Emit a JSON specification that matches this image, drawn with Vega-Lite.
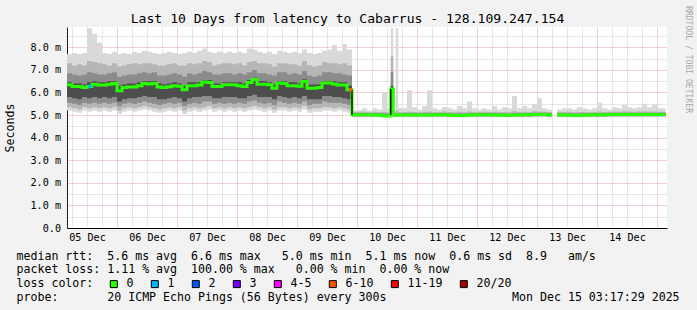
{
  "$schema": "https://vega.github.io/schema/vega-lite/v6.json",
  "width": 600,
  "height": 201,
  "autosize": {"type": "none"},
  "padding": {"left": 67, "top": 27, "right": 30, "bottom": 82},
  "background": "#f2f2f2",
  "config": {
    "view": {"stroke": null, "fill": "white"},
    "axis": {"zindex": 1, "labelFont": "DejaVu Sans Mono", "titleFont": "DejaVu Sans Mono", "titleFontWeight": "normal", "labelColor": "black", "titleColor": "black"}
  },
  "title": {"text": "Last 10 Days from latency to Cabarrus - 128.109.247.154", "font": "DejaVu Sans Mono", "fontSize": 13.1, "fontWeight": "normal", "color": "black", "anchor": "middle", "frame": "group", "dx": -19.5, "dy": 25, "offset": 4},
  "datasets": {
    "smoke": [
      {"h":0,"m":6.34,"a1":5.2,"b1":7.7,"a2":5.35,"b2":7.3,"a3":5.55,"b3":6.85,"a4":5.8,"b4":6.45},
      {"h":2,"m":6.27,"a1":5.15,"b1":7.75,"a2":5.3,"b2":7.2,"a3":5.5,"b3":6.8,"a4":5.75,"b4":6.4},
      {"h":4,"m":6.27,"a1":5.1,"b1":7.7,"a2":5.25,"b2":7.25,"a3":5.45,"b3":6.75,"a4":5.7,"b4":6.4},
      {"h":6,"m":6.22,"a1":5.2,"b1":7.75,"a2":5.35,"b2":7.2,"a3":5.55,"b3":6.8,"a4":5.8,"b4":6.35},
      {"h":8,"m":6.27,"a1":5.15,"b1":8.85,"a2":5.3,"b2":7.4,"a3":5.5,"b3":6.9,"a4":5.75,"b4":6.45},
      {"h":10,"m":6.37,"a1":5.2,"b1":8.6,"a2":5.35,"b2":7.35,"a3":5.55,"b3":6.85,"a4":5.8,"b4":6.5},
      {"h":12,"m":6.33,"a1":5.15,"b1":8.2,"a2":5.3,"b2":7.3,"a3":5.5,"b3":6.8,"a4":5.75,"b4":6.45},
      {"h":14,"m":6.33,"a1":5.2,"b1":7.75,"a2":5.35,"b2":7.25,"a3":5.55,"b3":6.8,"a4":5.8,"b4":6.45},
      {"h":16,"m":6.36,"a1":5.15,"b1":7.7,"a2":5.3,"b2":7.2,"a3":5.5,"b3":6.85,"a4":5.75,"b4":6.5},
      {"h":18,"m":6.4,"a1":5.2,"b1":7.8,"a2":5.35,"b2":7.3,"a3":5.55,"b3":6.9,"a4":5.8,"b4":6.5},
      {"h":20,"m":6.08,"a1":5.05,"b1":7.7,"a2":5.2,"b2":7.15,"a3":5.4,"b3":6.7,"a4":5.6,"b4":6.3},
      {"h":22,"m":6.22,"a1":5.15,"b1":7.75,"a2":5.3,"b2":7.2,"a3":5.5,"b3":6.75,"a4":5.7,"b4":6.35},
      {"h":24,"m":6.24,"a1":5.2,"b1":7.7,"a2":5.35,"b2":7.25,"a3":5.55,"b3":6.8,"a4":5.75,"b4":6.4},
      {"h":26,"m":6.24,"a1":5.15,"b1":7.8,"a2":5.3,"b2":7.3,"a3":5.5,"b3":6.8,"a4":5.75,"b4":6.4},
      {"h":28,"m":6.3,"a1":5.2,"b1":7.75,"a2":5.35,"b2":7.25,"a3":5.55,"b3":6.85,"a4":5.8,"b4":6.45},
      {"h":30,"m":6.4,"a1":5.25,"b1":7.85,"a2":5.4,"b2":7.3,"a3":5.6,"b3":6.9,"a4":5.85,"b4":6.5},
      {"h":32,"m":6.38,"a1":5.2,"b1":7.8,"a2":5.35,"b2":7.3,"a3":5.55,"b3":6.85,"a4":5.8,"b4":6.5},
      {"h":34,"m":6.4,"a1":5.15,"b1":7.75,"a2":5.3,"b2":7.25,"a3":5.5,"b3":6.9,"a4":5.8,"b4":6.5},
      {"h":36,"m":6.24,"a1":5.1,"b1":7.7,"a2":5.25,"b2":7.2,"a3":5.45,"b3":6.75,"a4":5.7,"b4":6.4},
      {"h":38,"m":6.22,"a1":5.15,"b1":7.75,"a2":5.3,"b2":7.2,"a3":5.5,"b3":6.75,"a4":5.7,"b4":6.35},
      {"h":40,"m":6.25,"a1":5.2,"b1":7.8,"a2":5.35,"b2":7.25,"a3":5.55,"b3":6.8,"a4":5.75,"b4":6.4},
      {"h":42,"m":6.3,"a1":5.15,"b1":7.75,"a2":5.3,"b2":7.3,"a3":5.5,"b3":6.85,"a4":5.8,"b4":6.45},
      {"h":44,"m":6.28,"a1":5.2,"b1":7.7,"a2":5.35,"b2":7.2,"a3":5.55,"b3":6.8,"a4":5.75,"b4":6.4},
      {"h":46,"m":6.12,"a1":5.05,"b1":7.75,"a2":5.2,"b2":7.2,"a3":5.4,"b3":6.7,"a4":5.6,"b4":6.3},
      {"h":48,"m":6.3,"a1":5.15,"b1":7.8,"a2":5.3,"b2":7.3,"a3":5.5,"b3":6.85,"a4":5.75,"b4":6.45},
      {"h":50,"m":6.3,"a1":5.2,"b1":7.75,"a2":5.35,"b2":7.25,"a3":5.55,"b3":6.8,"a4":5.8,"b4":6.45},
      {"h":52,"m":6.33,"a1":5.15,"b1":7.85,"a2":5.3,"b2":7.3,"a3":5.5,"b3":6.85,"a4":5.8,"b4":6.45},
      {"h":54,"m":6.47,"a1":5.2,"b1":7.95,"a2":5.35,"b2":7.4,"a3":5.6,"b3":6.95,"a4":5.85,"b4":6.55},
      {"h":56,"m":6.44,"a1":5.25,"b1":7.8,"a2":5.4,"b2":7.35,"a3":5.6,"b3":6.9,"a4":5.85,"b4":6.55},
      {"h":58,"m":6.27,"a1":5.15,"b1":7.75,"a2":5.3,"b2":7.2,"a3":5.5,"b3":6.8,"a4":5.75,"b4":6.4},
      {"h":60,"m":6.27,"a1":5.2,"b1":7.8,"a2":5.35,"b2":7.25,"a3":5.55,"b3":6.8,"a4":5.75,"b4":6.4},
      {"h":62,"m":6.34,"a1":5.15,"b1":7.75,"a2":5.3,"b2":7.3,"a3":5.5,"b3":6.85,"a4":5.8,"b4":6.45},
      {"h":64,"m":6.34,"a1":5.2,"b1":7.8,"a2":5.35,"b2":7.3,"a3":5.55,"b3":6.85,"a4":5.8,"b4":6.45},
      {"h":66,"m":6.34,"a1":5.15,"b1":7.75,"a2":5.3,"b2":7.25,"a3":5.5,"b3":6.8,"a4":5.8,"b4":6.45},
      {"h":68,"m":6.3,"a1":5.2,"b1":7.8,"a2":5.35,"b2":7.3,"a3":5.55,"b3":6.85,"a4":5.75,"b4":6.45},
      {"h":70,"m":6.27,"a1":5.15,"b1":7.75,"a2":5.3,"b2":7.2,"a3":5.5,"b3":6.8,"a4":5.75,"b4":6.4},
      {"h":72,"m":6.44,"a1":5.2,"b1":7.95,"a2":5.35,"b2":7.35,"a3":5.6,"b3":6.9,"a4":5.85,"b4":6.55},
      {"h":74,"m":6.57,"a1":5.25,"b1":7.9,"a2":5.4,"b2":7.4,"a3":5.65,"b3":7.0,"a4":5.9,"b4":6.65},
      {"h":76,"m":6.37,"a1":5.2,"b1":7.8,"a2":5.35,"b2":7.3,"a3":5.55,"b3":6.85,"a4":5.8,"b4":6.5},
      {"h":78,"m":6.37,"a1":5.15,"b1":7.75,"a2":5.3,"b2":7.3,"a3":5.5,"b3":6.85,"a4":5.8,"b4":6.5},
      {"h":80,"m":6.34,"a1":5.2,"b1":7.8,"a2":5.35,"b2":7.25,"a3":5.55,"b3":6.8,"a4":5.8,"b4":6.45},
      {"h":82,"m":6.19,"a1":5.1,"b1":7.7,"a2":5.25,"b2":7.15,"a3":5.45,"b3":6.75,"a4":5.7,"b4":6.35},
      {"h":84,"m":6.42,"a1":5.2,"b1":7.85,"a2":5.35,"b2":7.3,"a3":5.6,"b3":6.9,"a4":5.85,"b4":6.5},
      {"h":86,"m":6.4,"a1":5.2,"b1":7.8,"a2":5.35,"b2":7.3,"a3":5.55,"b3":6.9,"a4":5.8,"b4":6.5},
      {"h":88,"m":6.3,"a1":5.15,"b1":7.75,"a2":5.3,"b2":7.25,"a3":5.5,"b3":6.8,"a4":5.75,"b4":6.45},
      {"h":90,"m":6.3,"a1":5.2,"b1":7.8,"a2":5.35,"b2":7.25,"a3":5.55,"b3":6.85,"a4":5.8,"b4":6.45},
      {"h":92,"m":6.28,"a1":5.15,"b1":7.75,"a2":5.3,"b2":7.2,"a3":5.5,"b3":6.8,"a4":5.75,"b4":6.4},
      {"h":94,"m":6.5,"a1":5.25,"b1":7.9,"a2":5.4,"b2":7.4,"a3":5.6,"b3":6.95,"a4":5.85,"b4":6.6},
      {"h":96,"m":6.19,"a1":5.1,"b1":7.75,"a2":5.25,"b2":7.2,"a3":5.45,"b3":6.75,"a4":5.7,"b4":6.35},
      {"h":98,"m":6.19,"a1":5.15,"b1":7.7,"a2":5.3,"b2":7.15,"a3":5.5,"b3":6.7,"a4":5.7,"b4":6.35},
      {"h":100,"m":6.22,"a1":5.15,"b1":7.75,"a2":5.3,"b2":7.2,"a3":5.5,"b3":6.75,"a4":5.7,"b4":6.35},
      {"h":102,"m":6.42,"a1":5.2,"b1":7.85,"a2":5.35,"b2":7.35,"a3":5.6,"b3":6.9,"a4":5.85,"b4":6.5},
      {"h":104,"m":6.42,"a1":5.2,"b1":7.9,"a2":5.35,"b2":7.3,"a3":5.55,"b3":6.9,"a4":5.85,"b4":6.5},
      {"h":106,"m":6.38,"a1":5.15,"b1":8.1,"a2":5.3,"b2":7.3,"a3":5.55,"b3":6.85,"a4":5.8,"b4":6.5},
      {"h":108,"m":6.33,"a1":5.2,"b1":7.85,"a2":5.35,"b2":7.25,"a3":5.55,"b3":6.85,"a4":5.8,"b4":6.45},
      {"h":110,"m":6.33,"a1":5.15,"b1":8.15,"a2":5.3,"b2":7.3,"a3":5.5,"b3":6.8,"a4":5.75,"b4":6.45},
      {"h":112,"m":6.12,"a1":5.1,"b1":7.9,"a2":5.25,"b2":7.2,"a3":5.45,"b3":6.75,"a4":5.7,"b4":6.3},
      {"h":114,"m":5.02,"a1":4.9,"b1":5.2,"a2":4.93,"b2":5.14,"a3":4.95,"b3":5.09,"a4":4.97,"b4":5.06},
      {"h":116,"m":5.02,"a1":4.9,"b1":5.22,"a2":4.93,"b2":5.15,"a3":4.95,"b3":5.09,"a4":4.97,"b4":5.06},
      {"h":118,"m":5.01,"a1":4.9,"b1":5.3,"a2":4.93,"b2":5.15,"a3":4.95,"b3":5.08,"a4":4.97,"b4":5.05},
      {"h":120,"m":5.01,"a1":4.9,"b1":5.2,"a2":4.93,"b2":5.13,"a3":4.95,"b3":5.08,"a4":4.97,"b4":5.05},
      {"h":122,"m":5.0,"a1":4.9,"b1":5.3,"a2":4.93,"b2":5.15,"a3":4.95,"b3":5.08,"a4":4.97,"b4":5.05},
      {"h":124,"m":5.0,"a1":4.9,"b1":5.25,"a2":4.93,"b2":5.13,"a3":4.95,"b3":5.08,"a4":4.97,"b4":5.05},
      {"h":126,"m":4.97,"a1":4.88,"b1":6.0,"a2":4.91,"b2":5.15,"a3":4.93,"b3":5.07,"a4":4.95,"b4":5.03},
      {"h":128,"m":4.96,"a1":4.88,"b1":5.3,"a2":4.91,"b2":5.12,"a3":4.93,"b3":5.06,"a4":4.95,"b4":5.02},
      {"h":129.5,"m":6.15,"a1":4.95,"b1":8.85,"a2":5.0,"b2":7.6,"a3":5.0,"b3":6.9,"a4":5.02,"b4":6.3},
      {"h":130.5,"m":5.0,"a1":4.9,"b1":5.25,"a2":4.93,"b2":5.13,"a3":4.95,"b3":5.08,"a4":4.97,"b4":5.05},
      {"h":131.5,"m":5.0,"a1":4.9,"b1":8.85,"a2":4.93,"b2":5.2,"a3":4.95,"b3":5.08,"a4":4.97,"b4":5.05},
      {"h":132.5,"m":5.0,"a1":4.9,"b1":5.3,"a2":4.93,"b2":5.13,"a3":4.95,"b3":5.08,"a4":4.97,"b4":5.05},
      {"h":134,"m":5.0,"a1":4.9,"b1":5.3,"a2":4.93,"b2":5.14,"a3":4.95,"b3":5.08,"a4":4.97,"b4":5.05},
      {"h":136,"m":5.01,"a1":4.9,"b1":6.1,"a2":4.93,"b2":5.15,"a3":4.95,"b3":5.08,"a4":4.97,"b4":5.05},
      {"h":138,"m":5.0,"a1":4.9,"b1":5.35,"a2":4.93,"b2":5.14,"a3":4.95,"b3":5.08,"a4":4.97,"b4":5.05},
      {"h":140,"m":5.0,"a1":4.9,"b1":5.25,"a2":4.93,"b2":5.13,"a3":4.95,"b3":5.08,"a4":4.97,"b4":5.05},
      {"h":142,"m":5.0,"a1":4.9,"b1":5.4,"a2":4.93,"b2":5.15,"a3":4.95,"b3":5.08,"a4":4.97,"b4":5.05},
      {"h":144,"m":5.0,"a1":4.9,"b1":6.1,"a2":4.93,"b2":5.16,"a3":4.95,"b3":5.08,"a4":4.97,"b4":5.05},
      {"h":146,"m":5.01,"a1":4.9,"b1":5.3,"a2":4.93,"b2":5.14,"a3":4.95,"b3":5.08,"a4":4.97,"b4":5.05},
      {"h":148,"m":5.02,"a1":4.9,"b1":5.25,"a2":4.93,"b2":5.14,"a3":4.95,"b3":5.09,"a4":4.97,"b4":5.06},
      {"h":150,"m":5.02,"a1":4.9,"b1":5.35,"a2":4.93,"b2":5.16,"a3":4.95,"b3":5.09,"a4":4.97,"b4":5.06},
      {"h":152,"m":5.0,"a1":4.9,"b1":5.3,"a2":4.93,"b2":5.14,"a3":4.95,"b3":5.08,"a4":4.97,"b4":5.05},
      {"h":154,"m":4.98,"a1":4.89,"b1":5.25,"a2":4.92,"b2":5.13,"a3":4.94,"b3":5.07,"a4":4.96,"b4":5.04},
      {"h":156,"m":4.98,"a1":4.89,"b1":5.4,"a2":4.92,"b2":5.15,"a3":4.94,"b3":5.07,"a4":4.96,"b4":5.04},
      {"h":158,"m":4.98,"a1":4.89,"b1":5.3,"a2":4.92,"b2":5.13,"a3":4.94,"b3":5.07,"a4":4.96,"b4":5.04},
      {"h":160,"m":5.0,"a1":4.9,"b1":5.6,"a2":4.93,"b2":5.16,"a3":4.95,"b3":5.08,"a4":4.97,"b4":5.05},
      {"h":162,"m":5.01,"a1":4.9,"b1":5.3,"a2":4.93,"b2":5.14,"a3":4.95,"b3":5.08,"a4":4.97,"b4":5.05},
      {"h":164,"m":5.02,"a1":4.9,"b1":5.25,"a2":4.93,"b2":5.14,"a3":4.95,"b3":5.09,"a4":4.97,"b4":5.06},
      {"h":166,"m":5.02,"a1":4.9,"b1":5.3,"a2":4.93,"b2":5.15,"a3":4.95,"b3":5.09,"a4":4.97,"b4":5.06},
      {"h":168,"m":5.02,"a1":4.9,"b1":5.25,"a2":4.93,"b2":5.14,"a3":4.95,"b3":5.09,"a4":4.97,"b4":5.06},
      {"h":170,"m":5.0,"a1":4.9,"b1":5.4,"a2":4.93,"b2":5.15,"a3":4.95,"b3":5.08,"a4":4.97,"b4":5.05},
      {"h":172,"m":5.0,"a1":4.9,"b1":5.25,"a2":4.93,"b2":5.13,"a3":4.95,"b3":5.08,"a4":4.97,"b4":5.05},
      {"h":174,"m":4.99,"a1":4.9,"b1":5.35,"a2":4.92,"b2":5.14,"a3":4.94,"b3":5.07,"a4":4.96,"b4":5.04},
      {"h":176,"m":4.99,"a1":4.9,"b1":5.3,"a2":4.92,"b2":5.13,"a3":4.94,"b3":5.07,"a4":4.96,"b4":5.04},
      {"h":178,"m":5.0,"a1":4.9,"b1":5.85,"a2":4.93,"b2":5.17,"a3":4.95,"b3":5.08,"a4":4.97,"b4":5.05},
      {"h":180,"m":5.0,"a1":4.9,"b1":5.3,"a2":4.93,"b2":5.14,"a3":4.95,"b3":5.08,"a4":4.97,"b4":5.05},
      {"h":182,"m":5.01,"a1":4.9,"b1":5.4,"a2":4.93,"b2":5.15,"a3":4.95,"b3":5.08,"a4":4.97,"b4":5.05},
      {"h":184,"m":5.02,"a1":4.9,"b1":5.3,"a2":4.93,"b2":5.14,"a3":4.95,"b3":5.09,"a4":4.97,"b4":5.06},
      {"h":186,"m":5.03,"a1":4.91,"b1":5.5,"a2":4.94,"b2":5.17,"a3":4.96,"b3":5.1,"a4":4.98,"b4":5.07},
      {"h":188,"m":5.03,"a1":4.91,"b1":5.75,"a2":4.94,"b2":5.16,"a3":4.96,"b3":5.1,"a4":4.98,"b4":5.07},
      {"h":190,"m":5.03,"a1":4.91,"b1":5.3,"a2":4.94,"b2":5.15,"a3":4.96,"b3":5.1,"a4":4.98,"b4":5.07},
      {"h":192,"m":5.02,"a1":4.9,"b1":5.25,"a2":4.93,"b2":5.14,"a3":4.95,"b3":5.09,"a4":4.97,"b4":5.06},
      {"h":194,"m":5.02,"a1":4.9,"b1":5.25,"a2":4.93,"b2":5.14,"a3":4.95,"b3":5.09,"a4":4.97,"b4":5.06},
      {"h":195,"m":null,"a1":null,"b1":null,"a2":null,"b2":null,"a3":null,"b3":null,"a4":null,"b4":null},
      {"h":196,"m":5.01,"a1":4.9,"b1":5.25,"a2":4.93,"b2":5.14,"a3":4.95,"b3":5.08,"a4":4.97,"b4":5.05},
      {"h":198,"m":5.0,"a1":4.9,"b1":5.3,"a2":4.93,"b2":5.14,"a3":4.95,"b3":5.08,"a4":4.97,"b4":5.05},
      {"h":200,"m":5.0,"a1":4.9,"b1":5.3,"a2":4.93,"b2":5.15,"a3":4.95,"b3":5.08,"a4":4.97,"b4":5.05},
      {"h":202,"m":4.98,"a1":4.89,"b1":5.25,"a2":4.92,"b2":5.13,"a3":4.94,"b3":5.07,"a4":4.96,"b4":5.04},
      {"h":204,"m":4.98,"a1":4.89,"b1":5.35,"a2":4.92,"b2":5.14,"a3":4.94,"b3":5.07,"a4":4.96,"b4":5.04},
      {"h":206,"m":5.0,"a1":4.9,"b1":5.3,"a2":4.93,"b2":5.14,"a3":4.95,"b3":5.08,"a4":4.97,"b4":5.05},
      {"h":208,"m":5.0,"a1":4.9,"b1":5.25,"a2":4.93,"b2":5.13,"a3":4.95,"b3":5.08,"a4":4.97,"b4":5.05},
      {"h":210,"m":5.01,"a1":4.9,"b1":5.3,"a2":4.93,"b2":5.14,"a3":4.95,"b3":5.08,"a4":4.97,"b4":5.05},
      {"h":212,"m":5.01,"a1":4.9,"b1":5.55,"a2":4.93,"b2":5.16,"a3":4.95,"b3":5.08,"a4":4.97,"b4":5.05},
      {"h":214,"m":5.02,"a1":4.9,"b1":5.3,"a2":4.93,"b2":5.14,"a3":4.95,"b3":5.09,"a4":4.97,"b4":5.06},
      {"h":216,"m":5.03,"a1":4.91,"b1":5.25,"a2":4.94,"b2":5.15,"a3":4.96,"b3":5.1,"a4":4.98,"b4":5.07},
      {"h":218,"m":5.03,"a1":4.91,"b1":5.35,"a2":4.94,"b2":5.16,"a3":4.96,"b3":5.1,"a4":4.98,"b4":5.07},
      {"h":220,"m":5.03,"a1":4.91,"b1":5.3,"a2":4.94,"b2":5.15,"a3":4.96,"b3":5.1,"a4":4.98,"b4":5.07},
      {"h":222,"m":5.03,"a1":4.91,"b1":5.45,"a2":4.94,"b2":5.17,"a3":4.96,"b3":5.1,"a4":4.98,"b4":5.07},
      {"h":224,"m":5.03,"a1":4.91,"b1":5.35,"a2":4.94,"b2":5.16,"a3":4.96,"b3":5.1,"a4":4.98,"b4":5.07},
      {"h":226,"m":5.03,"a1":4.91,"b1":5.3,"a2":4.94,"b2":5.15,"a3":4.96,"b3":5.1,"a4":4.98,"b4":5.07},
      {"h":228,"m":5.03,"a1":4.91,"b1":5.35,"a2":4.94,"b2":5.16,"a3":4.96,"b3":5.1,"a4":4.98,"b4":5.07},
      {"h":230,"m":5.03,"a1":4.91,"b1":5.5,"a2":4.94,"b2":5.17,"a3":4.96,"b3":5.1,"a4":4.98,"b4":5.07},
      {"h":232,"m":5.03,"a1":4.91,"b1":5.35,"a2":4.94,"b2":5.16,"a3":4.96,"b3":5.1,"a4":4.98,"b4":5.07},
      {"h":234,"m":5.03,"a1":4.91,"b1":5.45,"a2":4.94,"b2":5.16,"a3":4.96,"b3":5.1,"a4":4.98,"b4":5.07},
      {"h":236,"m":5.03,"a1":4.91,"b1":5.3,"a2":4.94,"b2":5.15,"a3":4.96,"b3":5.1,"a4":4.98,"b4":5.07},
      {"h":238,"m":5.03,"a1":4.91,"b1":5.3,"a2":4.94,"b2":5.15,"a3":4.96,"b3":5.1,"a4":4.98,"b4":5.07},
      {"h":239.4,"m":5.03,"a1":4.91,"b1":5.3,"a2":4.94,"b2":5.15,"a3":4.96,"b3":5.1,"a4":4.98,"b4":5.07}
    ],
    "jumps": [
      {"h":114,"lo":5.02,"hi":6.12},
      {"h":129.5,"lo":5.0,"hi":6.15}
    ],
    "loss": [
      {"h":9.2,"m":6.27,"loss":"1"},
      {"h":113.4,"m":6.12,"loss":"6-10"}
    ]
  },
  "resolve": {"axis": {"x": "independent", "y": "independent"}},
  "layer": [
    {
      "data": {"name": "smoke"},
      "mark": {"type": "area", "interpolate": "step-after", "color": "#d9d9d9"},
      "encoding": {
        "x": {"field": "h", "type": "quantitative", "scale": {"domain": [0, 240], "nice": false, "zero": false},
              "axis": {"orient": "bottom", "values": [2,8,14,26,32,38,50,56,62,74,80,86,98,104,110,122,128,134,146,152,158,170,176,182,194,200,206,218,224,230], "grid": true, "gridColor": "#a0a0a0", "gridOpacity": 0.5, "gridDash": [1,1], "labels": false, "ticks": false, "domain": false, "title": null}},
        "y": {"field": "a1", "type": "quantitative", "scale": {"domain": [0, 8.9], "nice": false, "zero": false},
              "axis": {"orient": "left", "values": [0.5,1.5,2.5,3.5,4.5,5.5,6.5,7.5,8.5], "grid": true, "gridColor": "#a0a0a0", "gridOpacity": 0.5, "gridDash": [1,1], "labels": false, "ticks": false, "domain": false, "title": null}},
        "y2": {"field": "b1"}
      }
    },
    {
      "data": {"name": "smoke"},
      "mark": {"type": "area", "interpolate": "step-after", "color": "#b6b6b6"},
      "encoding": {
        "x": {"field": "h", "type": "quantitative",
              "axis": {"orient": "bottom", "values": [20,44,68,92,116,140,164,188,212,236], "grid": true, "gridColor": "#de5050", "gridOpacity": 0.5, "gridDash": [1,1], "labels": false, "ticks": false, "domain": false, "title": null}},
        "y": {"field": "a2", "type": "quantitative",
              "axis": {"orient": "left", "values": [0,1,2,3,4,5,6,7,8], "grid": true, "gridColor": "#de5050", "gridOpacity": 0.5, "gridDash": [1,1], "ticks": false, "domain": true, "domainColor": "#1f1f1f", "labelExpr": "datum.value == 0 ? '0.0\u00a0' : format(datum.value, '.1f') + ' m'", "labelFontSize": 10.15, "labelPadding": 6.5,
                       "title": "Seconds", "titleFontSize": 11.6, "titleX": -57, "titleY": 100.5, "titleAngle": 270, "titleAlign": "center", "titleBaseline": "middle"}},
        "y2": {"field": "b2"}
      }
    },
    {
      "data": {"name": "smoke"},
      "mark": {"type": "area", "interpolate": "step-after", "color": "#8c8c8c"},
      "encoding": {
        "x": {"field": "h", "type": "quantitative",
              "axis": {"orient": "bottom", "values": [8,32,56,80,104,128,152,176,200,224], "grid": false, "ticks": false, "domain": true, "domainColor": "black", "labelExpr": "utcFormat(utc(2025, 11, 5, 4 + datum.value), '%d %b')", "labelFontSize": 10.15, "labelPadding": 4, "labelFlush": false, "labelOverlap": false,
                       "title": ["median rtt:\u00a0\u00a05.6 ms avg\u00a0\u00a06.6 ms max\u00a0\u00a0\u00a05.0 ms min\u00a0\u00a05.1 ms now\u00a0\u00a00.6 ms sd\u00a0\u00a08.9\u00a0\u00a0\u00a0am/s", "packet loss: 1.11 % avg\u00a0\u00a0100.00 % max\u00a0\u00a0\u00a00.00 % min\u00a0\u00a00.00 % now", "loss color:", "probe:\u00a0\u00a0\u00a0\u00a0\u00a0\u00a0\u00a020 ICMP Echo Pings (56 Bytes) every 300s\u00a0\u00a0\u00a0\u00a0\u00a0\u00a0\u00a0\u00a0\u00a0\u00a0\u00a0\u00a0\u00a0\u00a0\u00a0\u00a0\u00a0\u00a0Mon Dec 15 03:17:29 2025"],
                       "titleFontSize": 11.6, "titleAlign": "left", "titleAnchor": "start", "titleX": -51, "titleY": 31, "titleBaseline": "alphabetic", "titleLineHeight": 13.8}},
        "y": {"field": "a3", "type": "quantitative",
              "axis": {"orient": "right", "grid": false, "labels": false, "ticks": false, "domain": false, "title": "RRDTOOL / TOBI OETIKER", "titleAngle": 90, "titleX": 20.7, "titleY": 32, "titleFontSize": 8.1, "titleColor": "#a8a8a8", "titleAlign": "center", "titleBaseline": "middle"}},
        "y2": {"field": "b3"}
      }
    },
    {
      "data": {"name": "smoke"},
      "mark": {"type": "area", "interpolate": "step-after", "color": "#4e4e4e"},
      "encoding": {
        "x": {"field": "h", "type": "quantitative", "axis": null},
        "y": {"field": "a4", "type": "quantitative", "axis": null},
        "y2": {"field": "b4"}
      }
    },
    {
      "data": {"name": "smoke"},
      "mark": {"type": "line", "interpolate": "step-after", "color": "#26ff00", "strokeWidth": 3},
      "encoding": {
        "x": {"field": "h", "type": "quantitative", "axis": null},
        "y": {"field": "m", "type": "quantitative", "axis": null}
      }
    },
    {
      "data": {"name": "jumps"},
      "mark": {"type": "rule", "color": "#1a1a1a", "strokeWidth": 1.5},
      "encoding": {
        "x": {"field": "h", "type": "quantitative", "axis": null},
        "y": {"field": "lo", "type": "quantitative", "axis": null},
        "y2": {"field": "hi"}
      }
    },
    {
      "data": {"name": "loss"},
      "mark": {"type": "point", "shape": "square", "filled": true, "size": 11, "opacity": 1},
      "encoding": {
        "x": {"field": "h", "type": "quantitative", "axis": null},
        "y": {"field": "m", "type": "quantitative", "axis": null},
        "color": {"field": "loss", "type": "nominal",
                  "scale": {"domain": ["0","1","2","3","4-5","6-10","11-19","20/20"], "range": ["#26ff00","#00b8ff","#0059ff","#7e00ff","#ff00ff","#ff5500","#ff0000","#a10000"]},
                  "legend": {"orient": "none", "legendX": 41, "legendY": 251, "direction": "horizontal", "title": null, "symbolType": "square", "symbolSize": 49, "symbolStrokeColor": "black", "symbolStrokeWidth": 1, "symbolOpacity": 1, "labelFont": "DejaVu Sans Mono", "labelFontSize": 11.6, "labelColor": "black", "labelOffset": 7, "columnPadding": 15, "padding": 0, "values": ["0","1","2","3","4-5","6-10","11-19","20/20"]}}
      }
    }
  ]
}
